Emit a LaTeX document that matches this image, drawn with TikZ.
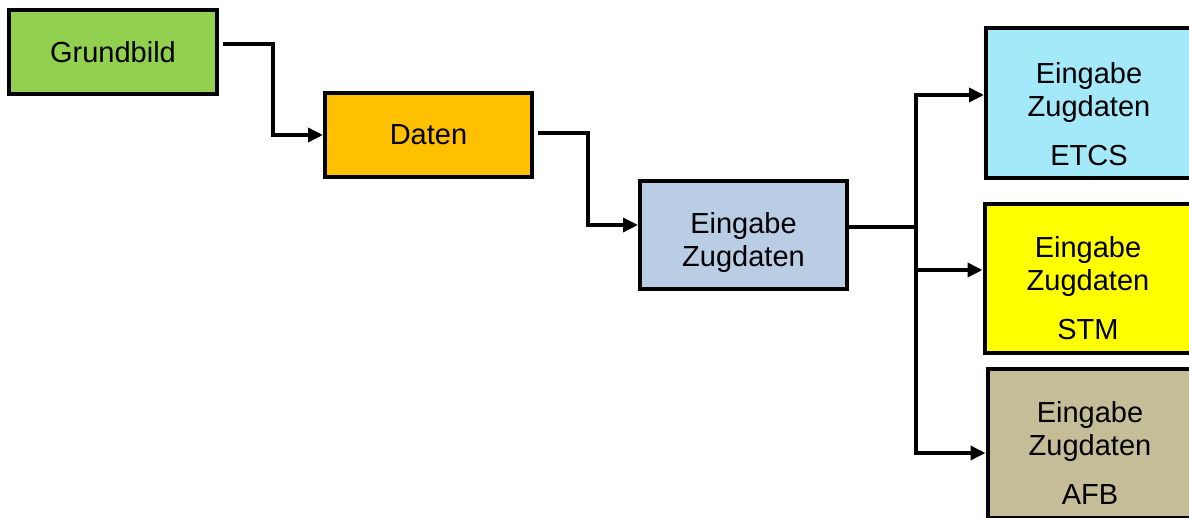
\documentclass[tikz,border=0pt]{standalone}
\usepackage{fontspec}
\setmainfont{Liberation Sans}
\usetikzlibrary{arrows.meta}
\definecolor{cgreen}{RGB}{146,208,80}
\definecolor{corange}{RGB}{255,192,0}
\definecolor{cblue}{RGB}{185,205,229}
\definecolor{ccyan}{RGB}{163,233,249}
\definecolor{cyellow}{RGB}{255,255,0}
\definecolor{ctan}{RGB}{196,189,151}
\tikzset{
  box/.style={draw=black, line width=4pt, rectangle, inner sep=0pt, align=center,
    font=\fontsize{29}{33}\selectfont},
  txt/.style={inner sep=0pt, align=center, font=\fontsize{29}{33}\selectfont},
  conn/.style={draw=black, line width=3.5pt, -{Triangle[length=15pt,width=14pt]}},
  wire/.style={draw=black, line width=3.5pt}
}
\begin{document}
\begin{tikzpicture}[x=1pt,y=-1pt]
\useasboundingbox (0,0) rectangle (1189,518);
\clip (0,0) rectangle (1189,518);
\node[box, fill=cgreen, minimum width=208pt, minimum height=84pt] (g) at (113,52) {Grundbild};
\node[box, fill=corange, minimum width=207pt, minimum height=84pt] (d) at (428.5,135) {Daten};
\node[box, fill=cblue, minimum width=207pt, minimum height=108pt] (b) at (743.5,235) {};
\node[txt] (bt) at (743.5,243) {Eingabe\\Zugdaten};
\node[box, fill=ccyan, minimum width=207pt, minimum height=150pt] (e) at (1089.5,103) {};
\node[box, fill=cyellow, minimum width=207pt, minimum height=149pt] (s) at (1088,278.5) {};
\node[box, fill=ctan, minimum width=205pt, minimum height=149pt] (a) at (1090,443.5) {};
\node[txt, anchor=north] (et) at (1089,62) {Eingabe\\Zugdaten\\[16pt]ETCS};
\node[txt, anchor=north] (st) at (1088,236) {Eingabe\\Zugdaten\\[16pt]STM};
\node[txt, anchor=north] (at) at (1090,401) {Eingabe\\Zugdaten\\[16pt]AFB};
\draw[conn] ([shift={(4,-8)}]g.east) -- ++(50,0) |- (d.west);
\draw[conn] ([shift={(4,-2)}]d.east) -- ++(50,0) |- ([shift={(0,-10)}]b.west);
\coordinate (j) at (916,227);
\draw[wire] ([shift={(0,-8)}]b.east) -- (j);
\draw[conn] (j) |- ([shift={(0,-8)}]e.west);
\draw[conn] (j) |- ([shift={(0,-8.5)}]s.west);
\draw[conn] (j) |- ([shift={(0,9.5)}]a.west);
\end{tikzpicture}
\end{document}
